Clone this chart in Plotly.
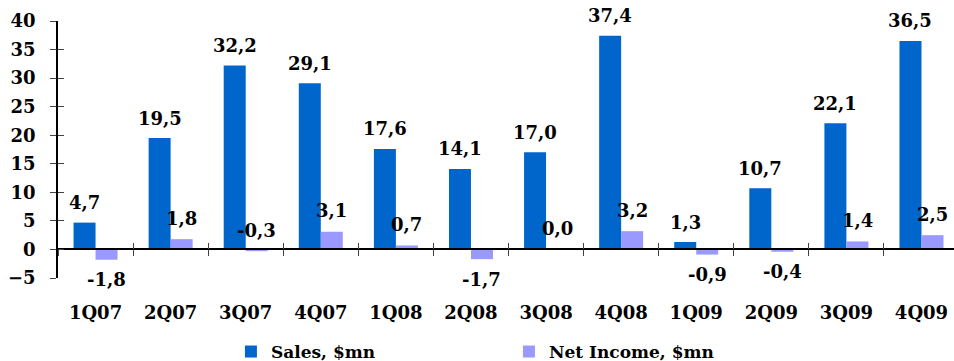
import plotly.graph_objects as go

# Quarterly figures, $mn
quarters = ["1Q07", "2Q07", "3Q07", "4Q07", "1Q08", "2Q08", "3Q08", "4Q08",
            "1Q09", "2Q09", "3Q09", "4Q09"]
sales = [4.7, 19.5, 32.2, 29.1, 17.6, 14.1, 17.0, 37.4, 1.3, 10.7, 22.1, 36.5]
net_income = [-1.8, 1.8, -0.3, 3.1, 0.7, -1.7, 0.0, 3.2, -0.9, -0.4, 1.4, 2.5]

SALES_COLOR = "#0066CC"
NI_COLOR = "#9999FF"
FONT = "DejaVu Serif"
BARGAP = 0.414
Y_MIN, Y_MAX = -5, 40
X_RANGE = [-0.5, 11.433]


def fmt(v):
    return f"{v:.1f}".replace(".", ",")


fig = go.Figure()
fig.add_trace(go.Bar(x=quarters, y=sales, name="Sales, $mn",
                     marker=dict(color=SALES_COLOR, line=dict(width=0))))
fig.add_trace(go.Bar(x=quarters, y=net_income, name="Net Income, $mn",
                     marker=dict(color=NI_COLOR, line=dict(width=0))))
# carrier trace for the overlay axes that draw the inner half of the crossing ticks
fig.add_trace(go.Scatter(x=quarters, y=[None] * len(quarters), xaxis="x2", yaxis="y2",
                         showlegend=False, hoverinfo="skip", mode="markers"))

# value labels, centred over each bar of the group
half = (1 - BARGAP) / 4
label_font = dict(family=FONT, size=18, color="black", weight="bold")
annotations = []
for i, v in enumerate(sales):
    annotations.append(dict(x=i - half, y=v, xref="x", yref="y", text=fmt(v),
                            showarrow=False, yshift=20, font=label_font))
for i, v in enumerate(net_income):
    below = v < -0.35
    annotations.append(dict(x=i + half, y=v, xref="x", yref="y", text=fmt(v),
                            showarrow=False, yshift=-20 if below else 21,
                            font=label_font))

zero_pos = (0 - Y_MIN) / (Y_MAX - Y_MIN)
tick_font = dict(family=FONT, size=18, color="black", weight="bold")

fig.update_layout(
    width=954, height=361,
    margin=dict(l=58, r=0, t=21, b=83),
    paper_bgcolor="white", plot_bgcolor="white",
    barmode="group", bargap=BARGAP, bargroupgap=0,
    font=dict(family=FONT, color="black"),
    annotations=annotations,
    xaxis=dict(type="category", categoryorder="array", categoryarray=quarters,
               range=X_RANGE, anchor="free", position=zero_pos, automargin=False,
               showline=True, linecolor="black", linewidth=1.5,
               ticks="outside", tickson="boundaries", ticklen=6, tickwidth=1,
               tickcolor="#444", showgrid=False, tickfont=tick_font,
               ticklabelstandoff=47),
    yaxis=dict(range=[Y_MIN, Y_MAX], dtick=5, showline=True, linecolor="black",
               linewidth=1.5, ticks="outside", ticklen=6, tickwidth=1,
               tickcolor="#444", showgrid=False, zeroline=False, automargin=False,
               tickfont=tick_font, ticklabelstandoff=11),
    xaxis2=dict(type="category", categoryorder="array", categoryarray=quarters,
                range=X_RANGE, overlaying="x", anchor="free", position=zero_pos,
                automargin=False,
                showline=False, ticks="inside", tickson="boundaries", ticklen=6,
                tickwidth=1, tickcolor="#444", showticklabels=False, showgrid=False),
    yaxis2=dict(range=[Y_MIN, Y_MAX], dtick=5, overlaying="y", anchor="x2",
                side="left", showline=False, ticks="inside", ticklen=6,
                automargin=False,
                tickwidth=1, tickcolor="#444", showticklabels=False,
                showgrid=False, zeroline=False),
    legend=dict(orientation="h", x=0.193, xanchor="left",
                yref="container", y=0.025, yanchor="middle",
                entrywidth=233, entrywidthmode="pixels",
                font=dict(family=FONT, size=17, color="black", weight="bold"),
                itemwidth=30),
    showlegend=True,
)

fig.write_html("out.html")
